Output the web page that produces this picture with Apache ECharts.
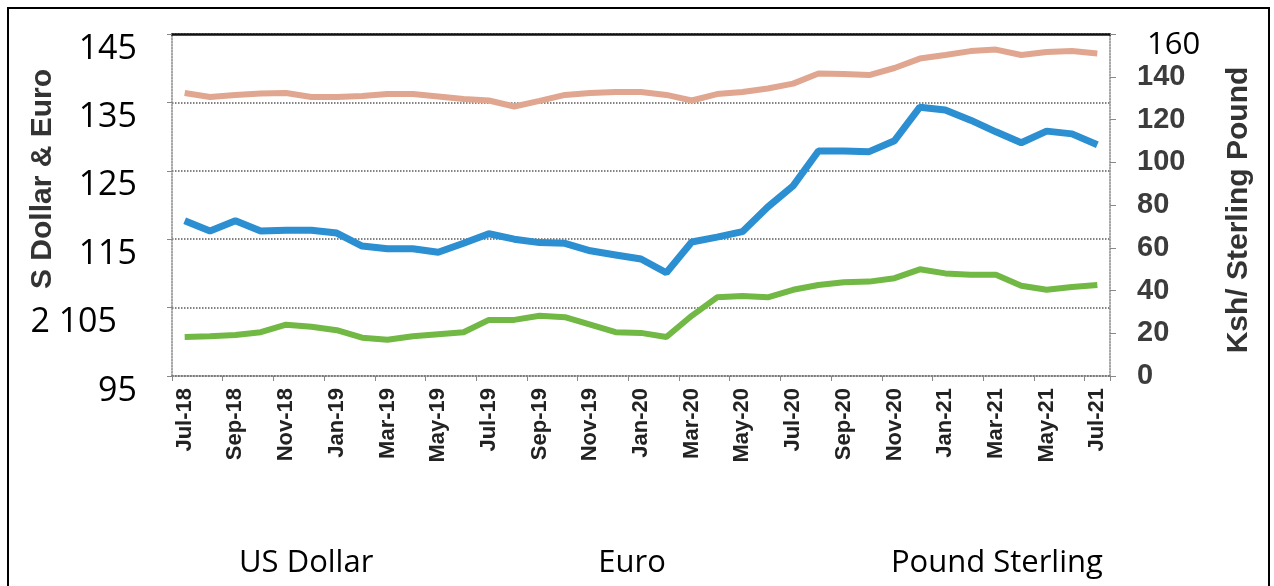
<!DOCTYPE html>
<html>
<head>
<meta charset="utf-8">
<script src="https://cdn.jsdelivr.net/npm/echarts@6/dist/echarts.min.js"></script>
<style>
html,body{margin:0;padding:0;background:#fff;}
#chart{width:1274px;height:586px;}
</style>
</head>
<body>
<div id="chart"></div>
<script>
const months = ['Jul-18','Aug-18','Sep-18','Oct-18','Nov-18','Dec-18','Jan-19','Feb-19','Mar-19','Apr-19','May-19','Jun-19','Jul-19','Aug-19','Sep-19','Oct-19','Nov-19','Dec-19','Jan-20','Feb-20','Mar-20','Apr-20','May-20','Jun-20','Jul-20','Aug-20','Sep-20','Oct-20','Nov-20','Dec-20','Jan-21','Feb-21','Mar-21','Apr-21','May-21','Jun-21','Jul-21'];
const usDollar = [100.7,100.8,101.0,101.4,102.5,102.2,101.7,100.6,100.3,100.8,101.1,101.4,103.2,103.2,103.8,103.6,102.5,101.4,101.3,100.7,103.8,106.5,106.7,106.5,107.6,108.3,108.7,108.8,109.3,110.6,110.0,109.8,109.8,108.2,107.6,108.0,108.3];
const euro = [117.7,116.2,117.7,116.2,116.3,116.3,115.9,114.0,113.6,113.6,113.1,114.4,115.8,115.0,114.5,114.4,113.3,112.7,112.1,110.1,114.6,115.3,116.1,119.7,122.8,127.9,127.9,127.8,129.4,134.3,133.9,132.4,130.7,129.1,130.8,130.4,128.8];
const poundSterling = [132.4,130.5,131.5,132.2,132.4,130.5,130.5,131.0,131.9,131.9,130.8,129.6,128.9,126.1,128.7,131.5,132.4,132.9,132.9,131.5,128.9,131.9,132.9,134.5,136.8,141.5,141.3,140.8,144.1,148.5,150.2,152.0,152.7,150.2,151.6,152.0,150.9];
const leftTicks = {95:'95',105:'2 105',115:'115',125:'125',135:'135',145:'145'};
const seriesNames = ['US Dollar','Euro','Pound Sterling'];

const chart = echarts.init(document.getElementById('chart'));
const gridGray = '#5a5a5a';
chart.setOption({
  animation:false,
  backgroundColor:'#fff',
  graphic:[{type:'rect',shape:{x:8,y:8,width:1261,height:640},style:{fill:'none',stroke:'#000',lineWidth:2},z:-1}],
  legend:{
    data:seriesNames, left:229, top:543, icon:'none', itemWidth:0, itemHeight:10, itemGap:220,
    textStyle:{fontFamily:'Open Sans',fontSize:31,color:'#000'}
  },
  grid:{left:172,right:164,top:34,bottom:210,containLabel:false,outerBoundsMode:'none'},
  xAxis:[{
    type:'category', data:months, boundaryGap:true,
    axisLine:{lineStyle:{color:'#777',type:'dotted',width:1.5}},
    axisTick:{show:true,interval:1,length:5,lineStyle:{color:'#888'}},
    axisLabel:{interval:1,rotate:90,margin:12,fontFamily:'Liberation Sans',fontWeight:'bold',fontSize:22,color:'#222'}
  },{
    type:'category', data:months, position:'top', boundaryGap:true,
    axisLine:{show:true,lineStyle:{color:'#111',width:2.5}},
    axisTick:{show:false}, axisLabel:{show:false}
  }],
  yAxis:[{
    type:'value', min:95, max:145, interval:10, position:'left',
    name:'S Dollar & Euro', nameLocation:'middle', nameRotate:90, nameGap:114, nameMoveOverlap:false,
    nameTextStyle:{fontFamily:'Liberation Sans',fontWeight:'bold',fontSize:30,color:'#333',padding:[0,0,0,52]},
    axisLine:{show:true,lineStyle:{color:'#888',type:'dotted',width:1.5}},
    axisTick:{show:true,length:5,lineStyle:{color:'#888'}},
    splitLine:{show:true,lineStyle:{color:gridGray,type:'dotted',width:1.5}},
    axisLabel:{
      margin:35, fontFamily:'Open Sans', fontSize:34, color:'#000', padding:[30,0,0,0],
      formatter:function(v){ return v===105 ? '{b|'+leftTicks[v]+'}' : (leftTicks[v]||''); },
      rich:{b:{fontFamily:'Open Sans',fontSize:34,color:'#000',padding:[0,20,0,0]}}
    }
  },{
    type:'value', min:0, max:160, interval:20, position:'right',
    name:'Ksh/ Sterling Pound', nameLocation:'middle', nameRotate:90, nameGap:114, nameMoveOverlap:false,
    nameTextStyle:{fontFamily:'Liberation Sans',fontWeight:'bold',fontSize:30,color:'#333',padding:[0,10,0,0]},
    axisLine:{show:true,lineStyle:{color:'#888',type:'dotted',width:1.5}},
    axisTick:{show:true,length:6,lineStyle:{color:'#888'}},
    splitLine:{show:false},
    axisLabel:{
      margin:27, fontFamily:'Liberation Sans', fontWeight:'bold', fontSize:29, color:'#3c3c3c',
      formatter:function(v){ return v===160 ? '{t|160}' : String(v); },
      rich:{t:{fontFamily:'Open Sans',fontWeight:'normal',fontSize:31,color:'#000',padding:[22,0,0,10]}}
    }
  }],
  series:[
    {name:seriesNames[0],type:'line',data:usDollar,yAxisIndex:0,symbol:'none',lineStyle:{color:'#72b844',width:6},itemStyle:{color:'#72b844'}},
    {name:seriesNames[1],type:'line',data:euro,yAxisIndex:0,symbol:'none',lineStyle:{color:'#2b8fd2',width:7},itemStyle:{color:'#2b8fd2'}},
    {name:seriesNames[2],type:'line',data:poundSterling,yAxisIndex:1,symbol:'none',lineStyle:{color:'#e0a690',width:6},itemStyle:{color:'#e0a690'}}
  ]
});
</script>
</body>
</html>
